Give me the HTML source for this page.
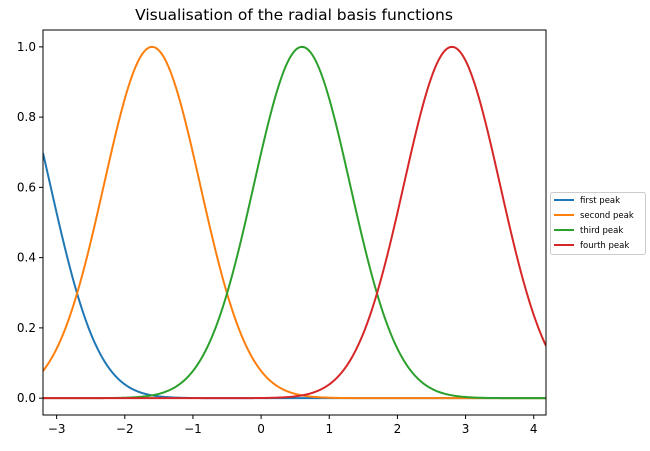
<!DOCTYPE html>
<html><head><meta charset="utf-8"><style>
body{margin:0;background:#fff;font-family:"Liberation Sans","DejaVu Sans",sans-serif}
svg text{font-family:"DejaVu Sans","Liberation Sans",sans-serif}
</style></head><body>
<svg id="chart" width="650" height="446">
<text x="294" y="20" font-size="15.5" text-anchor="middle" fill="#000">Visualisation of the radial basis functions</text>
<g id="plot"></g>
</svg>
<script>
const seriesNames=["first peak","second peak","third peak","fourth peak"];
const seriesCenters=[-3.8,-1.6,0.6,2.8];
const seriesWidths=[1.0,1.0,1.0,1.0];
const seriesColors=["#1f77b4","#ff7f0e","#2ca02c","#d62728"];
const xTicks=[-3,-2,-1,0,1,2,3,4];
const yTicks=[0,0.2,0.4,0.6,0.8,1.0];
const yTickLabels=["0.0","0.2","0.4","0.6","0.8","1.0"];
const xMin=-3.2,xMax=4.18,yMin=-0.048,yMax=1.048;
const L=43,R=546,T=30,B=415;
const sx=v=>L+(v-xMin)/(xMax-xMin)*(R-L);
const sy=v=>B-(v-yMin)/(yMax-yMin)*(B-T);
const NS="http://www.w3.org/2000/svg";
const g=document.getElementById('plot');
function mk(t,a){const e=document.createElementNS(NS,t);for(const k in a)e.setAttribute(k,a[k]);g.appendChild(e);return e;}
const cp=mk('clipPath',{id:'cp'});
const cr=document.createElementNS(NS,'rect');cr.setAttribute('x',L);cr.setAttribute('y',T);cr.setAttribute('width',R-L);cr.setAttribute('height',B-T);cp.appendChild(cr);
seriesCenters.forEach((c,i)=>{
  let d='';
  for(let k=0;k<=400;k++){const x=xMin+(xMax-xMin)*k/400;const y=Math.exp(-(x-c)*(x-c)/seriesWidths[i]);d+=(k?'L':'M')+sx(x).toFixed(2)+','+sy(y).toFixed(2);}
  const p=mk('path',{d:d,fill:'none',stroke:seriesColors[i],'stroke-width':2,'clip-path':'url(#cp)'});
  
  
});
const fr=mk('rect',{x:L,y:T,width:R-L,height:B-T,fill:'none',stroke:'#000','stroke-width':1});


xTicks.forEach(v=>{
  mk('line',{x1:sx(v),x2:sx(v),y1:B,y2:B+4,stroke:'#000'});
  const t=mk('text',{x:sx(v),y:B+18,'font-size':12,'text-anchor':'middle'});
  t.textContent=v<0?'\u2212'+(-v):String(v);
  
  
});
yTicks.forEach((v,i)=>{
  mk('line',{x1:L-4,x2:L,y1:sy(v),y2:sy(v),stroke:'#000'});
  const t=mk('text',{x:L-7,y:sy(v)+4,'font-size':12,'text-anchor':'end'});
  t.textContent=yTickLabels[i];
  
  
});
const lb=mk('rect',{x:550.5,y:192.5,width:95,height:62,fill:'#fff',stroke:'#ccc',rx:2});


seriesNames.forEach((n,i)=>{
  const y=200+i*15;
  mk('line',{x1:554,x2:574,y1:y,y2:y,stroke:seriesColors[i],'stroke-width':2});
  const t=mk('text',{x:580,y:y+3,'font-size':8.5});
  t.textContent=n;
  
  
});
</script>
</body></html>
